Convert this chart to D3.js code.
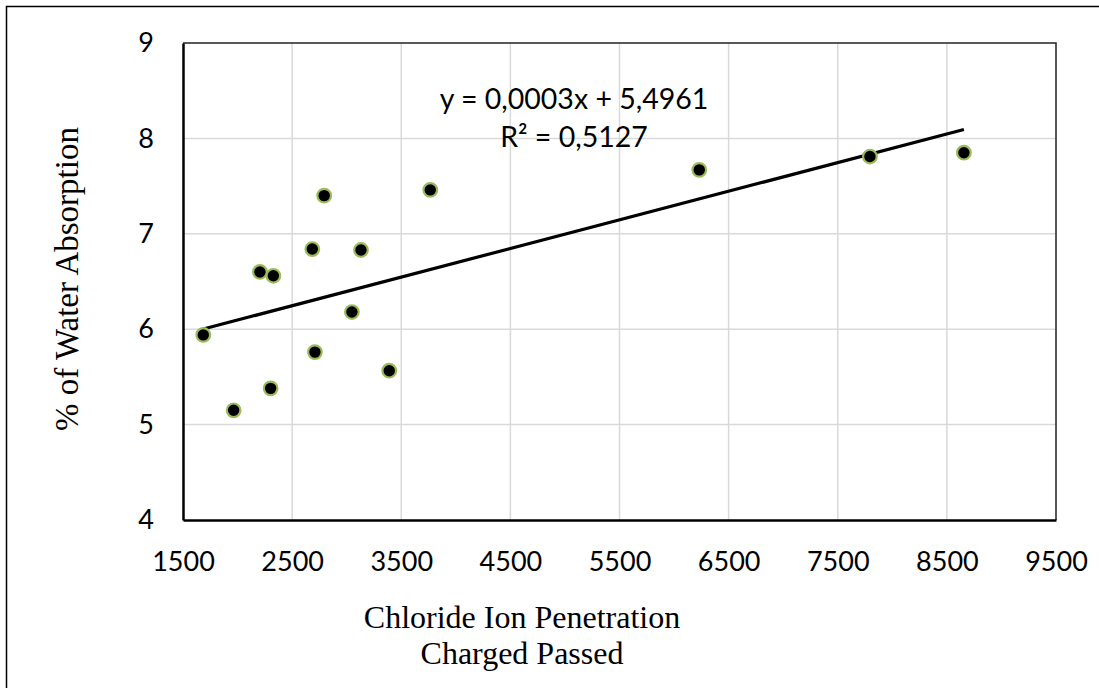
<!DOCTYPE html>
<html>
<head>
<meta charset="utf-8">
<script src="https://cdn.jsdelivr.net/npm/d3@7"></script>
<style>
  html, body { margin: 0; padding: 0; background: #fff; }
  svg { display: block; }
</style>
</head>
<body>
<svg id="chart" width="1099" height="688"></svg>
<script>
// Charge passed (coulombs) and water absorption (%) per mix
const chargePassed = [1686, 1964, 2205, 2303, 2328, 2685, 2709, 2794, 3048, 3131, 3390, 3766, 6231, 7795, 8656];
const waterAbsorption = [5.94, 5.15, 6.60, 5.38, 6.56, 6.84, 5.76, 7.40, 6.18, 6.83, 5.565, 7.46, 7.67, 7.81, 7.85];

// Linear trend line as reported
const trendSlope = 0.0003;
const trendIntercept = 5.4961;
const trendLabel = ["y = 0,0003x + 5,4961", "R² = 0,5127"];

const xTicks = [1500, 2500, 3500, 4500, 5500, 6500, 7500, 8500, 9500];
const yTicks = [4, 5, 6, 7, 8, 9];

const xTitle = ["Chloride Ion Penetration", "Charged Passed"];
const yTitle = "% of Water Absorption";

const svg = d3.select("#chart");
const plot = { left: 183, right: 1056, top: 43, bottom: 520 };

const x = d3.scaleLinear().domain([1500, 9500]).range([plot.left, plot.right]);
const y = d3.scaleLinear().domain([4, 9]).range([plot.bottom, plot.top]);

const sans = "Lato, 'Open Sans', sans-serif";
const serif = "'Liberation Serif', 'Times New Roman', serif";

// Outer frame
svg.append("rect")
  .attr("x", 6.5).attr("y", 6.5)
  .attr("width", 1200).attr("height", 1000)
  .attr("fill", "none").attr("stroke", "#000").attr("stroke-width", 1.5);

// Gridlines
svg.append("g")
  .selectAll("line")
  .data(xTicks.slice(1, -1))
  .join("line")
  .attr("x1", d => x(d)).attr("x2", d => x(d))
  .attr("y1", plot.top).attr("y2", plot.bottom)
  .attr("stroke", "#d9d9d9").attr("stroke-width", 1.5);

svg.append("g")
  .selectAll("line")
  .data(yTicks.slice(1, -1))
  .join("line")
  .attr("x1", plot.left).attr("x2", plot.right)
  .attr("y1", d => y(d)).attr("y2", d => y(d))
  .attr("stroke", "#d9d9d9").attr("stroke-width", 1.5);

// Plot-area border (top and right)
svg.append("path")
  .attr("d", `M${plot.left},${plot.top}H${plot.right}V${plot.bottom}`)
  .attr("fill", "none").attr("stroke", "#222").attr("stroke-width", 1.5);

// Axes
const xAxis = svg.append("g")
  .attr("transform", `translate(0,${plot.bottom})`)
  .call(d3.axisBottom(x).tickValues(xTicks).tickSize(0).tickPadding(32).tickFormat(d3.format("d")));
const yAxis = svg.append("g")
  .attr("transform", `translate(${plot.left},0)`)
  .call(d3.axisLeft(y).tickValues(yTicks).tickSize(0).tickPadding(29).tickFormat(d3.format("d")));

[xAxis, yAxis].forEach(g => {
  g.select(".domain").attr("stroke", "#000").attr("stroke-width", 2.5);
  g.selectAll("text")
    .attr("font-family", sans)
    .attr("font-size", 27)
    .attr("fill", "#000");
});

// Trend line across the data range
const xExtent = d3.extent(chargePassed);
const line = d3.line().x(d => x(d)).y(d => y(trendSlope * d + trendIntercept));
svg.append("path")
  .datum(xExtent)
  .attr("d", line)
  .attr("fill", "none").attr("stroke", "#000").attr("stroke-width", 3.2);

// Data points
svg.append("g")
  .selectAll("circle")
  .data(chargePassed.map((c, i) => [c, waterAbsorption[i]]))
  .join("circle")
  .attr("cx", d => x(d[0])).attr("cy", d => y(d[1]))
  .attr("r", 6.8)
  .attr("fill", "#000")
  .attr("stroke", "#9bbb59").attr("stroke-width", 2.2);

// Trend equation
svg.append("text")
  .attr("font-family", sans)
  .attr("font-size", 28.5)
  .attr("text-anchor", "middle")
  .selectAll("tspan")
  .data(trendLabel)
  .join("tspan")
  .attr("x", 574)
  .attr("y", (d, i) => 109 + i * 38)
  .text(d => d);

// Axis titles
svg.append("text")
  .attr("font-family", serif)
  .attr("font-size", 32)
  .attr("text-anchor", "middle")
  .selectAll("tspan")
  .data(xTitle)
  .join("tspan")
  .attr("x", 522)
  .attr("y", (d, i) => 628 + i * 36)
  .text(d => d);

svg.append("text")
  .attr("font-family", serif)
  .attr("font-size", 33)
  .attr("text-anchor", "middle")
  .attr("transform", `translate(78,279) rotate(-90)`)
  .text(yTitle);
</script>
</body>
</html>
